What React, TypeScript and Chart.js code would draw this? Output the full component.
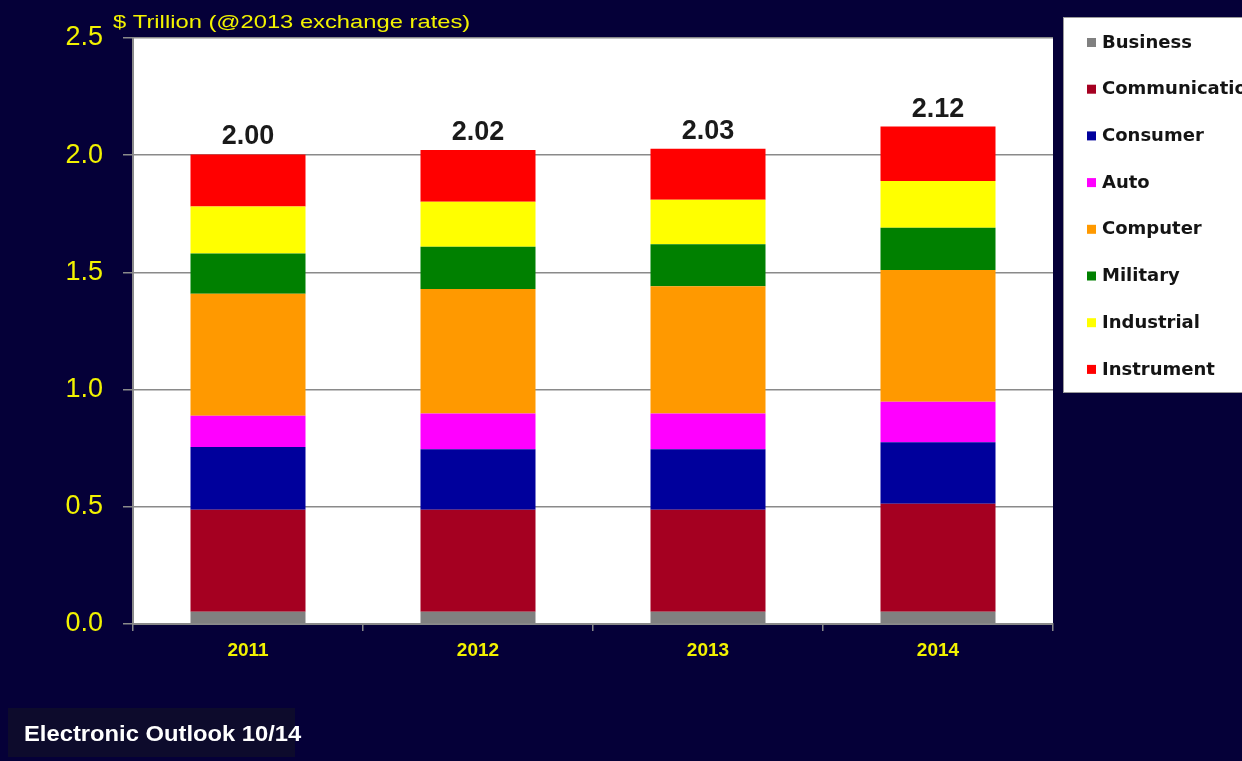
import React, { useEffect, useRef } from "react";
import Chart from "chart.js/auto";

const years = ["2011", "2012", "2013", "2014"];
const seriesNames = ["Business", "Communication", "Consumer", "Auto", "Computer", "Military", "Industrial", "Instrument"];
const business = [0.052, 0.052, 0.052, 0.052];
const communication = [0.435, 0.435, 0.435, 0.461];
const consumer = [0.268, 0.259, 0.259, 0.262];
const auto = [0.133, 0.152, 0.152, 0.173];
const computer = [0.521, 0.531, 0.543, 0.562];
const military = [0.172, 0.180, 0.179, 0.180];
const industrial = [0.200, 0.192, 0.190, 0.200];
const instrument = [0.222, 0.221, 0.217, 0.232];
const seriesColors = ["#808080", "#a50021", "#00009c", "#ff00ff", "#ff9900", "#008000", "#ffff00", "#ff0000"];
const yTicks = [0, 0.5, 1.0, 1.5, 2.0, 2.5];
const titleText = "$ Trillion (@2013 exchange rates)";
const footerText = "Electronic Outlook 10/14";

const BG = "#050038";
const YELLOW = "#f2f200";

export default function App() {
  const ref = useRef<HTMLCanvasElement | null>(null);

  useEffect(() => {
    const canvas = ref.current;
    if (!canvas) return;
    const values = [business, communication, consumer, auto, computer, military, industrial, instrument];

    const bgPlugin = {
      id: "bgPlugin",
      beforeDraw(chart: any) {
        const { ctx, chartArea } = chart;
        ctx.save();
        ctx.fillStyle = BG;
        ctx.fillRect(0, 0, chart.width, chart.height);
        ctx.fillStyle = "#ffffff";
        ctx.fillRect(chartArea.left, chartArea.top, chartArea.right - chartArea.left, chartArea.bottom - chartArea.top);
        ctx.fillStyle = "#0d0b2c";
        ctx.fillRect(8, 708, 287, 49);
        ctx.restore();
      },
      afterDatasetsDraw(chart: any) {
        const { ctx } = chart;
        const lastMeta = chart.getDatasetMeta(chart.data.datasets.length - 1);
        ctx.save();
        ctx.fillStyle = "#1a1a1a";
        ctx.font = 'bold 27px "Liberation Sans", Arial, sans-serif';
        ctx.textAlign = "center";
        ctx.textBaseline = "alphabetic";
        years.forEach((_, i) => {
          const total = values.reduce((s, arr) => s + arr[i], 0);
          const x = lastMeta.data[i].x;
          const y = chart.scales.y.getPixelForValue(total);
          ctx.fillText(total.toFixed(2), x, y - 10);
        });
        ctx.restore();
      },
      afterDraw(chart: any) {
        const { ctx } = chart;
        ctx.save();
        // title
        ctx.fillStyle = YELLOW;
        ctx.textBaseline = "middle";
        ctx.textAlign = "left";
        ctx.font = '19px "Liberation Sans", Arial, sans-serif';
        ctx.save();
        ctx.translate(113, 23);
        ctx.scale(1.25, 1);
        ctx.fillText(titleText, 0, 0);
        ctx.restore();
        // legend box
        ctx.fillStyle = "#ffffff";
        ctx.fillRect(1063, 17, 190, 376);
        ctx.strokeStyle = "#9a9a9a";
        ctx.lineWidth = 1;
        ctx.strokeRect(1063.5, 17.5, 190, 375);
        ctx.font = 'bold 18px "DejaVu Sans", Verdana, sans-serif';
        ctx.textBaseline = "middle";
        seriesNames.forEach((name, i) => {
          const cy = 42 + i * 46.7;
          ctx.fillStyle = seriesColors[i];
          ctx.fillRect(1087, cy - 4, 9, 9);
          ctx.fillStyle = "#141414";
          ctx.fillText(name, 1102, cy + 1);
        });
        // footer
        ctx.fillStyle = "#ffffff";
        ctx.font = 'bold 22px "Liberation Sans", Arial, sans-serif';
        ctx.save();
        ctx.translate(24, 735);
        ctx.scale(1.08, 1);
        ctx.fillText(footerText, 0, 0);
        ctx.restore();
        ctx.restore();
      },
    };

    const chart = new Chart(canvas, {
      type: "bar",
      data: {
        labels: years,
        datasets: seriesNames.map((name, i) => ({
          label: name,
          data: values[i],
          backgroundColor: seriesColors[i],
          borderWidth: 0,
          categoryPercentage: 1,
          barPercentage: 0.5,
        })),
      },
      options: {
        responsive: false,
        animation: false,
        devicePixelRatio: 1,
        layout: { padding: { left: 0, right: 189, top: 38, bottom: 0 } },
        plugins: {
          legend: { display: false },
          tooltip: { enabled: false },
          title: { display: false },
        },
        scales: {
          x: {
            stacked: true,
            grid: { display: true, drawOnChartArea: false, drawTicks: true, tickLength: 7, color: "#8a8a8a", lineWidth: 1.5 },
            border: { display: true, color: "#8a8a8a", width: 2 },
            ticks: {
              color: YELLOW,
              font: { family: '"Liberation Sans", Arial, sans-serif', size: 19, weight: "bold" },
              padding: 8,
            },
            afterFit(scale: any) {
              scale.height = 137;
            },
          },
          y: {
            stacked: true,
            min: 0,
            max: 2.5,
            afterBuildTicks(scale: any) {
              scale.ticks = yTicks.map((v) => ({ value: v }));
            },
            grid: { color: "#8a8a8a", lineWidth: 1.5, drawTicks: true, tickLength: 10 },
            border: { display: true, color: "#8a8a8a", width: 2 },
            ticks: {
              color: YELLOW,
              font: { family: '"Liberation Sans", Arial, sans-serif', size: 27 },
              padding: 20,
              callback: (v: any) => Number(v).toFixed(1),
            },
            afterFit(scale: any) {
              scale.width = 133;
            },
          },
        },
      },
      plugins: [bgPlugin],
    });
    return () => chart.destroy();
  }, []);

  return (
    <div style={{ position: "absolute", left: 0, top: 0, width: 1242, height: 761, background: BG }}>
      <canvas ref={ref} width={1242} height={761} style={{ display: "block", width: 1242, height: 761 }} />
    </div>
  );
}
